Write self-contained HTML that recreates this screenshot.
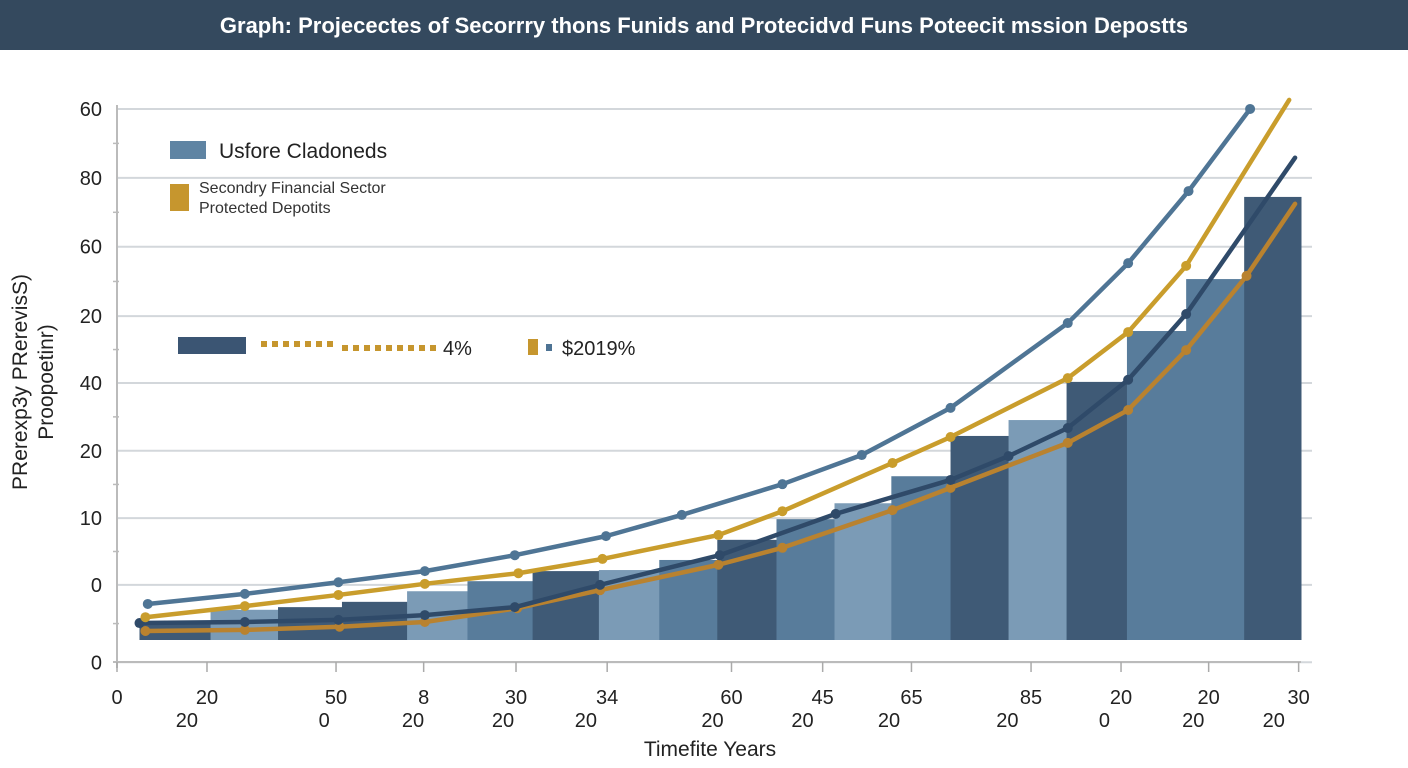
<!DOCTYPE html>
<html><head><meta charset="utf-8"><style>
html,body{margin:0;padding:0;background:#fff;width:1408px;height:768px;overflow:hidden;font-family:"Liberation Sans",Arial,sans-serif}
</style></head><body>
<svg id="chart" width="1408" height="768" xmlns="http://www.w3.org/2000/svg">
<rect x="0" y="0" width="1408" height="50" fill="#34495e"/>
<text x="704" y="33" text-anchor="middle" fill="#fff" font-size="22" font-weight="bold">Graph: Projecectes of Secorrry thons  Funids and Protecidvd Funs Poteecit mssion Depostts</text>
<g id="grid"></g>
<g id="bars"></g>
<g id="lines"></g>
<g id="axes"></g>
<g>
<rect x="170" y="141" width="36" height="18" fill="#5f84a3"/>
<text x="219" y="158" font-size="21" fill="#222">Usfore Cladoneds</text>
<rect x="170" y="184" width="19" height="27" fill="#c6962e"/>
<text x="199" y="193" font-size="16" fill="#333">Secondry Financial Sector</text>
<text x="199" y="213" font-size="16" fill="#333">Protected Depotits</text>
<rect x="178" y="337" width="68" height="17" fill="#3b5573"/>
<line x1="261" y1="344" x2="334" y2="344" stroke="#c6962e" stroke-width="6" stroke-dasharray="6,5"/>
<line x1="342" y1="348" x2="440" y2="348" stroke="#c6962e" stroke-width="6" stroke-dasharray="6,5"/>
<text x="443" y="355" font-size="20" fill="#222">4%</text>
<rect x="528" y="339" width="10" height="16" fill="#c6962e"/>
<rect x="546" y="344" width="6" height="7" fill="#4e7394"/>
<text x="562" y="355" font-size="20" fill="#222">$2019%</text>
</g>
<text transform="translate(27,382) rotate(-90)" text-anchor="middle" font-size="21" fill="#222">PRerexp3y PRerevisS)</text>
<text transform="translate(53,382) rotate(-90)" text-anchor="middle" font-size="21" fill="#222">Proopoetinr)</text>
<text x="710" y="756" text-anchor="middle" font-size="21" fill="#222">Timefite Years</text>
</svg>
<script>
const yTickVals=[100.2,87.2,74.2,61.1,48.5,35.7,23.0,10.4,-4.2];
const yTickLabels=["60","80","60","20","40","20","10","0","0"];
const xTickVals=[0,7.6,18.5,25.9,33.7,41.4,51.9,59.6,67.1,77.2,84.8,92.2,99.8];
const xTickTop=["0","20","50","8","30","34","60","45","65","85","20","20","30"];
const xBottomVals=[5.9,17.5,25,32.6,39.6,50.3,57.9,65.2,75.2,83.4,90.9,97.7];
const xBottomLabels=["20","0","20","20","20","20","20","20","20","0","20","20"];
const barStarts=[1.9,7.9,13.6,19.0,24.5,29.6,35.1,40.7,45.8,50.7,55.7,60.6,65.4,70.4,75.3,80.2,85.3,90.3,95.2];
const barEnds=[7.9,13.6,19.0,24.5,29.6,35.1,40.7,45.8,50.7,55.7,60.6,65.4,70.4,75.3,80.2,85.3,90.3,95.2,100];
const barValues=[3.4,5.7,6.2,7.2,9.2,11.1,13.0,13.2,15.1,18.9,22.8,25.8,30.9,38.5,41.5,48.7,58.3,68.1,83.6];
const barShades=["d","l","d","d","l","m","d","l","m","d","m","l","m","d","l","d","m","m","d"];
const lineAx=[2.6,10.8,18.7,26.0,33.6,41.3,47.7,56.2,62.9,70.4,80.3,85.4,90.5,95.7];
const lineAy=[6.8,8.7,10.9,13.0,16.0,19.6,23.6,29.4,34.9,43.8,59.8,71.1,84.7,100.2];
const lineBx=[2.4,10.8,18.7,26.0,33.9,41.0,50.8,56.2,65.5,70.4,80.3,85.4,90.3,99.0];
const lineBy=[4.3,6.4,8.5,10.6,12.6,15.3,19.8,24.3,33.4,38.3,49.4,58.1,70.6,101.9];
const lineCx=[1.9,10.8,18.7,26.0,33.6,40.8,50.9,60.7,70.4,75.3,80.3,85.4,90.3,99.5];
const lineCy=[3.2,3.4,3.8,4.7,6.2,10.4,16.0,23.8,30.2,34.7,40.0,49.1,61.5,91.0];
const lineDx=[2.4,10.8,18.8,26.0,33.8,40.8,50.8,56.2,65.5,70.4,80.3,85.4,90.3,95.4,99.5];
const lineDy=[1.7,1.9,2.5,3.4,6.0,9.4,14.2,17.4,24.5,28.7,37.2,43.4,54.7,68.7,82.3];
const NS="http://www.w3.org/2000/svg";
function xS(t){return 117+t*11.84;}
function yS(v){return 640-v*5.3;}
function mk(tag,attrs,parent){const e=document.createElementNS(NS,tag);for(const k in attrs)e.setAttribute(k,attrs[k]);parent.appendChild(e);return e;}
const grid=document.getElementById('grid'),bars=document.getElementById('bars'),lines=document.getElementById('lines'),axes=document.getElementById('axes');
yTickVals.forEach((v,i)=>{
  const l=mk('line',{x1:117,x2:1312,y1:yS(v),y2:yS(v),stroke:'#d3d7db','stroke-width':2},grid);
  
  
  const t=mk('text',{x:102,y:yS(v)+7,'text-anchor':'end','font-size':20,fill:'#222'},axes);
  t.textContent=yTickLabels[i];
  
  
  if(i<yTickVals.length-1){const m=mk('line',{x1:113,x2:119,y1:(yS(v)+yS(yTickVals[i+1]))/2,y2:(yS(v)+yS(yTickVals[i+1]))/2,stroke:'#bbb','stroke-width':1.5},axes);
  
  }
});
const ya=mk('line',{x1:117,x2:117,y1:105,y2:668,stroke:'#bbb','stroke-width':2},axes);


const shade={d:'#3f5a76',m:'#587c9b',l:'#7b9bb6'};
barValues.forEach((v,i)=>{
  const r=mk('rect',{x:xS(barStarts[i]),y:yS(v),width:xS(barEnds[i])-xS(barStarts[i])+0.5,height:yS(0)-yS(v),fill:shade[barShades[i]]},bars);
  
  
});
function drawLine(xs,ys,color,name,marks){
  const p=xs.map((x,i)=>xS(x)+','+yS(ys[i])).join(' ');
  const pl=mk('polyline',{points:p,fill:'none',stroke:color,'stroke-width':4.5,'stroke-linejoin':'round','stroke-linecap':'round'},lines);
  
  
  xs.forEach((x,i)=>{if(!marks||i===xs.length-1&&name!=='line-a')return;
    const c=mk('circle',{cx:xS(x),cy:yS(ys[i]),r:5,fill:color},lines);
    
    });
}
drawLine(lineDx,lineDy,'#b9822f','line-d',true);
drawLine(lineCx,lineCy,'#2f4a69','line-c',true);
drawLine(lineBx,lineBy,'#c99d2c','line-b',true);
drawLine(lineAx,lineAy,'#4f7595','line-a',true);
const xa=mk('line',{x1:113,x2:1301,y1:662,y2:662,stroke:'#bbb','stroke-width':2},axes);


xTickVals.forEach((v,i)=>{
  const tk=mk('line',{x1:xS(v),x2:xS(v),y1:662,y2:672,stroke:'#aaa','stroke-width':1.5},axes);
  
  
  const t=mk('text',{x:xS(v),y:704,'text-anchor':'middle','font-size':20,fill:'#222'},axes);
  t.textContent=xTickTop[i];
  
  
});
xBottomVals.forEach((v,i)=>{
  const t=mk('text',{x:xS(v),y:727,'text-anchor':'middle','font-size':20,fill:'#222'},axes);
  t.textContent=xBottomLabels[i];
  
  
});
</script>
</body></html>
